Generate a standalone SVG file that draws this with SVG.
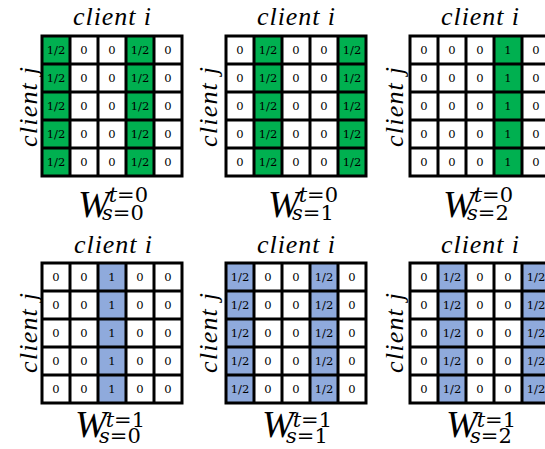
<svg xmlns="http://www.w3.org/2000/svg" width="545" height="449" viewBox="0 0 545 449">
  <style>
    .lbl { font-family: "Liberation Serif", serif; font-style: italic; font-size: 26px; fill: #000; text-anchor: middle; }
    .cell { font-family: "DejaVu Serif", serif; font-size: 11.5px; fill: #000; text-anchor: middle; }
    .g { fill: #00B050; }
    .b { fill: #8FAADC; }
    .grid { fill: none; stroke: #000; stroke-width: 3; }
    .math { font-family: "DejaVu Serif", serif; font-size: 21px; fill: #000; }
    .W { font-family: "Liberation Serif", serif; font-style: italic; font-size: 38px; }
    .it { font-style: italic; }
  </style>
  <defs>
    <!-- 5x5 grid lines: 28px columns, 28px rows -->
    <path id="lines" class="grid" d="M0 0H140V140H0Z M28 0V140 M56 0V140 M84 0V140 M112 0V140 M0 28H140 M0 56H140 M0 84H140 M0 112H140"/>
    <!-- rows of cell values -->
    <g id="r-a"><text class="cell" x="14" y="18">1/2</text><text class="cell" x="42" y="18">0</text><text class="cell" x="70" y="18">0</text><text class="cell" x="98" y="18">1/2</text><text class="cell" x="126" y="18">0</text></g>
    <g id="r-b"><text class="cell" x="14" y="18">0</text><text class="cell" x="42" y="18">1/2</text><text class="cell" x="70" y="18">0</text><text class="cell" x="98" y="18">0</text><text class="cell" x="126" y="18">1/2</text></g>
    <g id="r-c"><text class="cell" x="14" y="18">0</text><text class="cell" x="42" y="18">0</text><text class="cell" x="70" y="18">0</text><text class="cell" x="98" y="18">1</text><text class="cell" x="126" y="18">0</text></g>
    <g id="r-d"><text class="cell" x="14" y="18">0</text><text class="cell" x="42" y="18">0</text><text class="cell" x="70" y="18">1</text><text class="cell" x="98" y="18">0</text><text class="cell" x="126" y="18">0</text></g>
    <g id="vals-a"><use href="#r-a"/><use href="#r-a" y="28"/><use href="#r-a" y="56"/><use href="#r-a" y="84"/><use href="#r-a" y="112"/></g>
    <g id="vals-b"><use href="#r-b"/><use href="#r-b" y="28"/><use href="#r-b" y="56"/><use href="#r-b" y="84"/><use href="#r-b" y="112"/></g>
    <g id="vals-c"><use href="#r-c"/><use href="#r-c" y="28"/><use href="#r-c" y="56"/><use href="#r-c" y="84"/><use href="#r-c" y="112"/></g>
    <g id="vals-d"><use href="#r-d"/><use href="#r-d" y="28"/><use href="#r-d" y="56"/><use href="#r-d" y="84"/><use href="#r-d" y="112"/></g>
  </defs>

  <!-- t = 0, s = 0 -->
  <g id="w-t0-s0">
    <text class="lbl" x="112" y="25" textLength="78" lengthAdjust="spacing">client i</text>
    <text class="lbl" transform="translate(37 107) rotate(-90)" textLength="80" lengthAdjust="spacing">client j</text>
    <g transform="translate(42 36)">
      <rect class="g" x="0" y="0" width="28" height="140"/>
      <rect class="g" x="84" y="0" width="28" height="140"/>
      <use href="#vals-a"/>
      <use href="#lines"/>
    </g>
    <text class="math" x="78" y="217"><tspan class="W">W</tspan><tspan dx="-1" dy="-15"><tspan class="it">t</tspan>=0</tspan><tspan x="102" dy="18"><tspan class="it">s</tspan>=0</tspan></text>
  </g>

  <!-- t = 0, s = 1 -->
  <g id="w-t0-s1">
    <text class="lbl" x="296" y="25" textLength="78" lengthAdjust="spacing">client i</text>
    <text class="lbl" transform="translate(217 107) rotate(-90)" textLength="80" lengthAdjust="spacing">client j</text>
    <g transform="translate(226 36)">
      <rect class="g" x="28" y="0" width="28" height="140"/>
      <rect class="g" x="112" y="0" width="28" height="140"/>
      <use href="#vals-b"/>
      <use href="#lines"/>
    </g>
    <text class="math" x="268" y="217"><tspan class="W">W</tspan><tspan dx="-1" dy="-15"><tspan class="it">t</tspan>=0</tspan><tspan x="292" dy="18"><tspan class="it">s</tspan>=1</tspan></text>
  </g>

  <!-- t = 0, s = 2 -->
  <g id="w-t0-s2">
    <text class="lbl" x="480" y="25" textLength="78" lengthAdjust="spacing">client i</text>
    <text class="lbl" transform="translate(403 107) rotate(-90)" textLength="80" lengthAdjust="spacing">client j</text>
    <g transform="translate(410 36)">
      <rect class="g" x="84" y="0" width="28" height="140"/>
      <use href="#vals-c"/>
      <use href="#lines"/>
    </g>
    <text class="math" x="443" y="217"><tspan class="W">W</tspan><tspan dx="-1" dy="-15"><tspan class="it">t</tspan>=0</tspan><tspan x="467" dy="18"><tspan class="it">s</tspan>=2</tspan></text>
  </g>

  <!-- t = 1, s = 0 -->
  <g id="w-t1-s0">
    <text class="lbl" x="113" y="253" textLength="78" lengthAdjust="spacing">client i</text>
    <text class="lbl" transform="translate(37 333) rotate(-90)" textLength="80" lengthAdjust="spacing">client j</text>
    <g transform="translate(42 263)">
      <rect class="b" x="56" y="0" width="28" height="140"/>
      <use href="#vals-d"/>
      <use href="#lines"/>
    </g>
    <text class="math" x="75" y="437"><tspan class="W">W</tspan><tspan dx="-1" dy="-10"><tspan class="it">t</tspan>=1</tspan><tspan x="99" dy="16"><tspan class="it">s</tspan>=0</tspan></text>
  </g>

  <!-- t = 1, s = 1 -->
  <g id="w-t1-s1">
    <text class="lbl" x="296" y="253" textLength="78" lengthAdjust="spacing">client i</text>
    <text class="lbl" transform="translate(217 333) rotate(-90)" textLength="80" lengthAdjust="spacing">client j</text>
    <g transform="translate(226 263)">
      <rect class="b" x="0" y="0" width="28" height="140"/>
      <rect class="b" x="84" y="0" width="28" height="140"/>
      <use href="#vals-a"/>
      <use href="#lines"/>
    </g>
    <text class="math" x="262" y="437"><tspan class="W">W</tspan><tspan dx="-1" dy="-10"><tspan class="it">t</tspan>=1</tspan><tspan x="286" dy="16"><tspan class="it">s</tspan>=1</tspan></text>
  </g>

  <!-- t = 1, s = 2 -->
  <g id="w-t1-s2">
    <text class="lbl" x="480" y="253" textLength="78" lengthAdjust="spacing">client i</text>
    <text class="lbl" transform="translate(403 333) rotate(-90)" textLength="80" lengthAdjust="spacing">client j</text>
    <g transform="translate(410 263)">
      <rect class="b" x="28" y="0" width="28" height="140"/>
      <rect class="b" x="112" y="0" width="28" height="140"/>
      <use href="#vals-b"/>
      <use href="#lines"/>
    </g>
    <text class="math" x="446" y="437"><tspan class="W">W</tspan><tspan dx="-1" dy="-10"><tspan class="it">t</tspan>=1</tspan><tspan x="470" dy="16"><tspan class="it">s</tspan>=2</tspan></text>
  </g>
</svg>
